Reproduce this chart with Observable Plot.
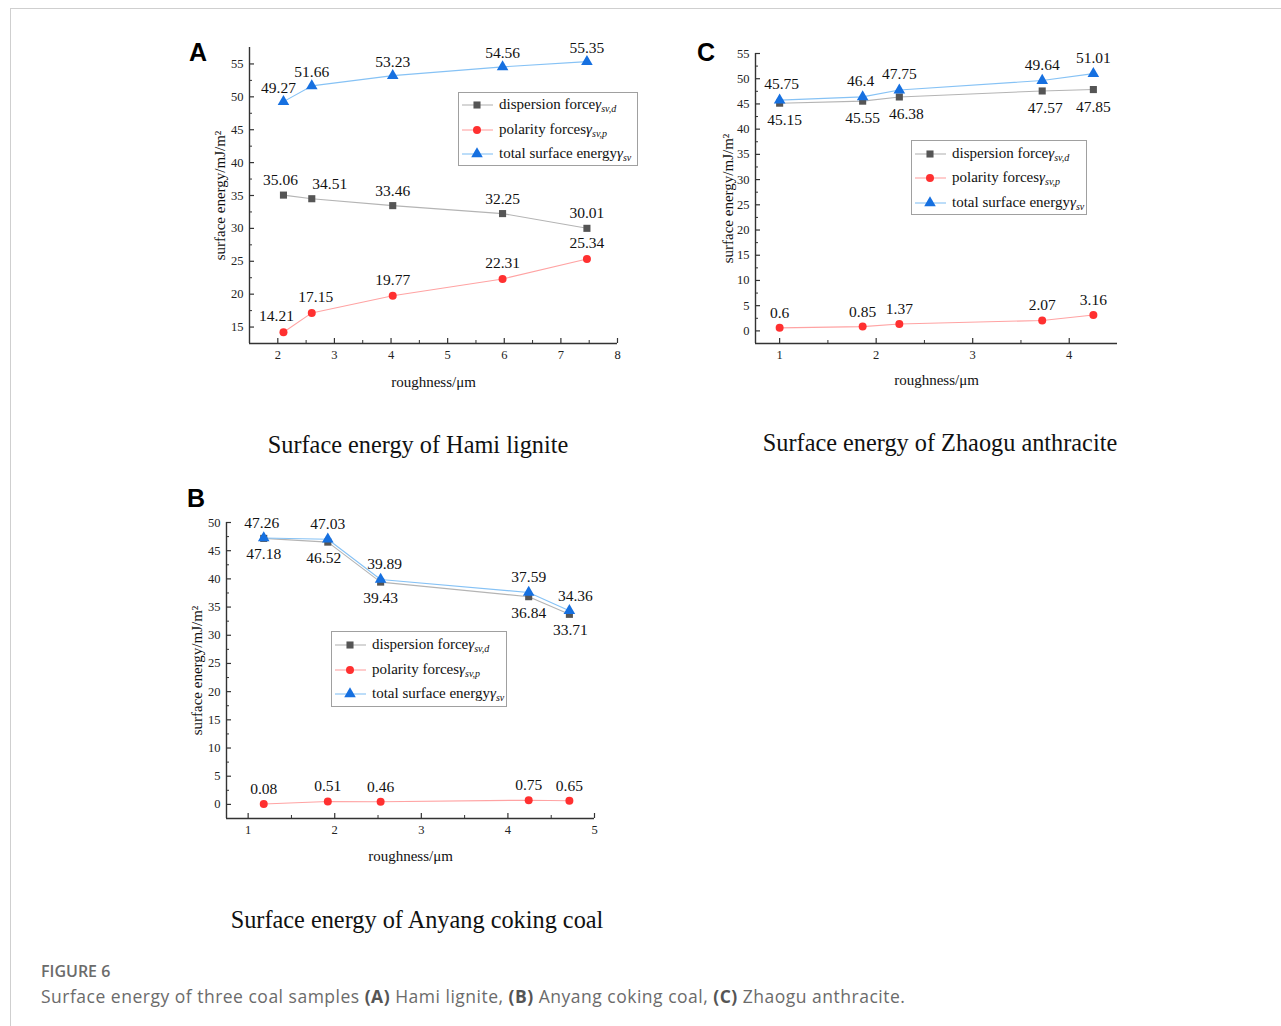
<!DOCTYPE html>
<html><head><meta charset="utf-8">
<script src="https://cdn.jsdelivr.net/npm/d3@7"></script>
<script src="https://cdn.jsdelivr.net/npm/@observablehq/plot@0.6"></script>
<style>
body{margin:0;background:#fff;overflow:hidden;width:1281px;height:1026px;position:relative}
.frame{position:absolute;left:10px;top:8px;width:1400px;height:1100px;border-top:1px solid #cfcfcf;border-left:1px solid #cfcfcf}
.letter{position:absolute;font-family:"Liberation Sans",Arial,sans-serif;font-weight:bold;font-size:25px;line-height:1;color:#000}
.sub{position:absolute;font-family:"Liberation Serif",serif;font-size:24.3px;transform:translate(-50%,-50%);white-space:nowrap;color:#111}
.legend{position:absolute;border:1px solid #a0a0a0;background:#fff;font-family:"Liberation Serif",serif;font-size:15px;color:#111;box-sizing:border-box}
.legend .row{position:absolute;left:2px;height:20px;display:flex;align-items:center;white-space:nowrap}
.legend .row span{margin-left:6px}
.legend sub{font-size:10px;font-style:italic;vertical-align:-3px}
.cap1{position:absolute;left:41px;top:960px;font-family:"Open Sans",sans-serif;font-size:16px;font-weight:600;color:#6b6b6b}
.cap2{position:absolute;left:41px;top:984px;font-family:"Open Sans",sans-serif;font-size:17.5px;letter-spacing:0.5px;color:#6b6b6b;white-space:nowrap}
.cap2 b{font-weight:700;color:#555}
</style>
</head><body>
<div class="frame"></div>
<div id="root"></div>
<div class="cap1">FIGURE 6</div>
<div class="cap2">Surface energy of three coal samples <b>(A)</b> Hami lignite, <b>(B)</b> Anyang coking coal, <b>(C)</b> Zhaogu anthracite.</div>
<script>
// ---- data ----
const seriesNames = ["dispersion force", "polarity forces", "total surface energy"];
const seriesSubs = ["sv,d", "sv,p", "sv"];

const hamiRoughness = [2.10, 2.60, 4.03, 5.97, 7.46];
const hamiDispersion = [35.06, 34.51, 33.46, 32.25, 30.01];
const hamiPolarity = [14.21, 17.15, 19.77, 22.31, 25.34];
const hamiTotal = [49.27, 51.66, 53.23, 54.56, 55.35];

const anyangRoughness = [1.18, 1.92, 2.53, 4.24, 4.71];
const anyangDispersion = [47.18, 46.52, 39.43, 36.84, 33.71];
const anyangPolarity = [0.08, 0.51, 0.46, 0.75, 0.65];
const anyangTotal = [47.26, 47.03, 39.89, 37.59, 34.36];

const zhaoguRoughness = [1.00, 1.86, 2.24, 3.72, 4.25];
const zhaoguDispersion = [45.15, 45.55, 46.38, 47.57, 47.85];
const zhaoguPolarity = [0.6, 0.85, 1.37, 2.07, 3.16];
const zhaoguTotal = [45.75, 46.4, 47.75, 49.64, 51.01];

const hamiXTicks = [2, 3, 4, 5, 6, 7, 8];
const hamiYTicks = [15, 20, 25, 30, 35, 40, 45, 50, 55];
const anyangXTicks = [1, 2, 3, 4, 5];
const anyangYTicks = [0, 5, 10, 15, 20, 25, 30, 35, 40, 45, 50];
const zhaoguXTicks = [1, 2, 3, 4];
const zhaoguYTicks = [0, 5, 10, 15, 20, 25, 30, 35, 40, 45, 50, 55];

const panelTitles = ["Surface energy of Hami lignite", "Surface energy of Anyang coking coal", "Surface energy of Zhaogu anthracite"];
const yTitle = "surface energy/mJ/m²";
const xTitle = "roughness/μm";

// ---- styles ----
const lineColors = ["#b4b4b4", "#ffa3a3", "#86c2f5"];
const markColors = ["#555555", "#ff3030", "#1670e0"];
const symbols = ["square", "circle", "triangle"];
const d3Symbols = [d3.symbolSquare, d3.symbolCircle, d3.symbolTriangle];

// ---- layout ----
const panels = [
  {letter: "A", title: panelTitles[0], left: 180, top: 30, ml: 69, mt: 17, pw: 368, ph: 296,
   x: hamiRoughness, series: [hamiDispersion, hamiPolarity, hamiTotal],
   xDomain: [1.5, 8], yDomain: [12.5, 57.5], xTicks: hamiXTicks, yTicks: hamiYTicks,
   labels: [{dy: -15, dx: {0: -3, 1: 18}}, {dy: -16, dx: {0: -7, 1: 4}}, {dy: -14, dx: {0: -5}}],
   ylabDx: -29, xlabDy: 39, letterPos: [189, 40], titlePos: [418, 445],
   legend: {left: 458, top: 92, w: 180, h: 74, rows: [12, 36.7, 61.3]}},
  {letter: "B", title: panelTitles[1], left: 180, top: 480, ml: 46, mt: 42, pw: 368, ph: 296,
   x: anyangRoughness, series: [anyangDispersion, anyangPolarity, anyangTotal],
   xDomain: [0.75, 5], yDomain: [-2.5, 50], xTicks: anyangXTicks, yTicks: anyangYTicks,
   labels: [{dy: 16, dx: {1: -4, 4: 1}}, {dy: -15, dx: {}}, {dy: -15, dx: {0: -2, 2: 4, 4: 6}}],
   ylabDx: -29, xlabDy: 38, letterPos: [187, 486], titlePos: [417, 920],
   legend: {left: 331, top: 631, w: 176, h: 76, rows: [12.5, 37.5, 61.5]}},
  {letter: "C", title: panelTitles[2], left: 690, top: 30, ml: 65, mt: 23, pw: 362, ph: 290,
   x: zhaoguRoughness, series: [zhaoguDispersion, zhaoguPolarity, zhaoguTotal],
   xDomain: [0.75, 4.5], yDomain: [-2.5, 55], xTicks: zhaoguXTicks, yTicks: zhaoguYTicks,
   labels: [{dy: 17, dx: {0: 5, 2: 7, 3: 3}}, {dy: -15, dx: {}}, {dy: -16, dx: {0: 2, 1: -2}}],
   ylabDx: -27, xlabDy: 37, letterPos: [697, 40], titlePos: [940, 443],
   legend: {left: 911, top: 140, w: 176, h: 75, rows: [13.3, 37.3, 61.7]}}
];

const root = document.getElementById("root");
const serif = '"Liberation Serif", "Times New Roman", serif';

function midpoints(t) {
  const out = [];
  for (let i = 0; i < t.length - 1; i++) out.push((t[i] + t[i + 1]) / 2);
  return out;
}

for (const p of panels) {
  const mr = 20, mb = 60;
  const W = p.ml + p.pw + mr, H = p.mt + p.ph + mb;
  const marks = [];
  // axis lines
  marks.push(Plot.ruleX([p.xDomain[0]], {stroke: "#333", strokeWidth: 1.4}));
  marks.push(Plot.ruleY([p.yDomain[0]], {stroke: "#333", strokeWidth: 1.4}));
  // inward ticks
  marks.push(Plot.tickX(p.xTicks, {x: d => d, insetTop: p.ph - 5, stroke: "#333", strokeWidth: 1.2}));
  marks.push(Plot.tickX(midpoints(p.xTicks), {x: d => d, insetTop: p.ph - 3, stroke: "#333", strokeWidth: 1}));
  marks.push(Plot.tickY(p.yTicks, {y: d => d, insetRight: p.pw - 5, stroke: "#333", strokeWidth: 1.2}));
  marks.push(Plot.tickY(midpoints(p.yTicks), {y: d => d, insetRight: p.pw - 3, stroke: "#333", strokeWidth: 1}));
  // tick labels
  marks.push(Plot.axisX({ticks: p.xTicks, tickFormat: d => String(d), tickSize: 0, tickPadding: 7, label: null, fontSize: 12.5, fill: "#222"}));
  marks.push(Plot.axisY({ticks: p.yTicks, tickFormat: d => String(d), tickSize: 0, tickPadding: 6, label: null, fontSize: 12.5, fill: "#222"}));
  // axis titles
  marks.push(Plot.text([xTitle], {frameAnchor: "bottom", dy: p.xlabDy, fontSize: 15, fill: "#111", textAnchor: "middle", lineAnchor: "middle"}));
  marks.push(Plot.text([yTitle], {frameAnchor: "left", dx: p.ylabDx, rotate: -90, fontSize: 15, fill: "#111", textAnchor: "middle", lineAnchor: "middle"}));
  // series
  p.series.forEach((vals, s) => {
    const rows = vals.map((v, i) => ({x: p.x[i], y: v, i}));
    marks.push(Plot.line(rows, {x: "x", y: "y", stroke: lineColors[s], strokeWidth: 1.1}));
  });
  p.series.forEach((vals, s) => {
    const rows = vals.map((v, i) => ({x: p.x[i], y: v, i}));
    marks.push(Plot.dot(rows, {x: "x", y: "y", symbol: symbols[s], fill: markColors[s], stroke: "none", r: s === 2 ? 4.3 : 4}));
    const lab = p.labels[s];
    rows.forEach(r => {
      marks.push(Plot.text([r], {x: "x", y: "y", text: d => String(p.series[s][d.i]),
        dy: lab.dy, dx: lab.dx[r.i] || 0, fontSize: 15.5, fill: "#111", lineAnchor: "middle"}));
    });
  });

  const chart = Plot.plot({
    width: W, height: H, marginLeft: p.ml, marginTop: p.mt, marginRight: mr, marginBottom: mb,
    x: {domain: p.xDomain}, y: {domain: p.yDomain},
    style: {fontFamily: serif, fontSize: "12.5px", color: "#222", background: "transparent", overflow: "visible"},
    marks
  });
  chart.style.position = "absolute";
  chart.style.left = p.left + "px";
  chart.style.top = p.top + "px";
  root.appendChild(chart);

  // letter
  const L = document.createElement("div");
  L.className = "letter";
  L.textContent = p.letter;
  L.style.left = p.letterPos[0] + "px";
  L.style.top = p.letterPos[1] + "px";
  root.appendChild(L);

  // title
  const T = document.createElement("div");
  T.className = "sub";
  T.textContent = p.title;
  T.style.left = p.titlePos[0] + "px";
  T.style.top = p.titlePos[1] + "px";
  root.appendChild(T);

  // legend
  const lg = document.createElement("div");
  lg.className = "legend";
  Object.assign(lg.style, {left: p.legend.left + "px", top: p.legend.top + "px", width: p.legend.w + "px", height: p.legend.h + "px"});
  seriesNames.forEach((name, s) => {
    const row = document.createElement("div");
    row.className = "row";
    row.style.top = (p.legend.rows[s] - 10) + "px";
    const path = d3.symbol(d3Symbols[s], s === 2 ? 58 : 50)();
    row.innerHTML = `<svg width="32" height="20"><line x1="1" x2="32" y1="10" y2="10" stroke="${lineColors[s]}" stroke-width="1.1"/>` +
      `<path transform="translate(16,10)" d="${path}" fill="${markColors[s]}"/></svg>` +
      `<span>${name}<i>γ</i><sub>${seriesSubs[s]}</sub></span>`;
    lg.appendChild(row);
  });
  root.appendChild(lg);
}
</script>
</body></html>
